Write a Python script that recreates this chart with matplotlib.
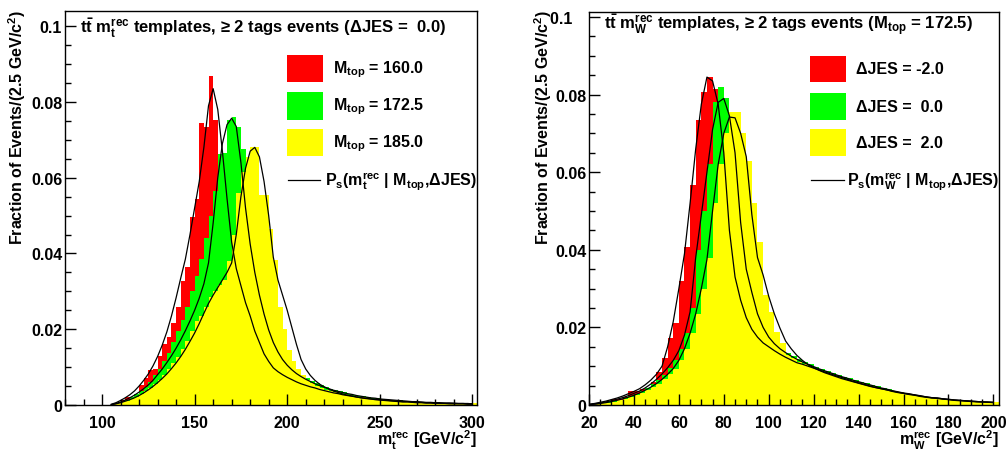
import numpy as np
import matplotlib
matplotlib.use("Agg")
import matplotlib.pyplot as plt
from matplotlib.patches import Rectangle
from matplotlib.lines import Line2D
from matplotlib.ticker import MultipleLocator, FuncFormatter

plt.rcParams['font.family'] = ['Liberation Sans', 'DejaVu Sans']
plt.rcParams['font.weight'] = 'bold'
plt.rcParams['mathtext.fontset'] = 'custom'
plt.rcParams['mathtext.rm'] = 'Liberation Sans:bold'
plt.rcParams['mathtext.it'] = 'Liberation Sans:bold'
plt.rcParams['mathtext.bf'] = 'Liberation Sans:bold'
plt.rcParams['mathtext.sf'] = 'Liberation Sans:bold'
plt.rcParams['mathtext.default'] = 'rm'

# ---------------- data: left panel (m_t^rec), bins of 2.5 GeV ----------------
BIN_W = 2.5
left_bin_start = 102.5
left_labels = ["M$_{top}$ = 160.0", "M$_{top}$ = 172.5", "M$_{top}$ = 185.0"]
left_hist_160 = [
    0.0000, 0.0003, 0.0006, 0.0012, 0.0021, 0.0021, 0.0030, 0.0054, 0.0072, 0.0093,
    0.0096, 0.0130, 0.0160, 0.0180, 0.0216, 0.0260, 0.0328, 0.0363, 0.0497, 0.0544,
    0.0744, 0.0733, 0.0868, 0.0751, 0.0650, 0.0520, 0.0410, 0.0330, 0.0280, 0.0230,
    0.0190, 0.0160, 0.0135, 0.0118, 0.0100, 0.0090, 0.0080, 0.0072, 0.0066, 0.0060,
    0.0055, 0.0050, 0.0046, 0.0042, 0.0040, 0.0036, 0.0034, 0.0031, 0.0029, 0.0027,
    0.0025, 0.0023, 0.0022, 0.0021, 0.0018, 0.0016, 0.0015, 0.0014, 0.0013, 0.0012,
    0.0011, 0.0010, 0.0009, 0.0009, 0.0008, 0.0007, 0.0007, 0.0006, 0.0006, 0.0005,
    0.0005, 0.0005, 0.0004, 0.0004, 0.0004, 0.0003, 0.0003, 0.0003, 0.0003, 0.0002]
left_hist_172 = [
    0.0000, 0.0002, 0.0004, 0.0008, 0.0014, 0.0020, 0.0028, 0.0036, 0.0048, 0.0062,
    0.0078, 0.0095, 0.0115, 0.0138, 0.0165, 0.0195, 0.0225, 0.0260, 0.0300, 0.0340,
    0.0385, 0.0440, 0.0500, 0.0565, 0.0663, 0.0665, 0.0751, 0.0760, 0.0733, 0.0676,
    0.0560, 0.0460, 0.0370, 0.0300, 0.0245, 0.0200, 0.0170, 0.0145, 0.0125, 0.0110,
    0.0097, 0.0087, 0.0078, 0.0070, 0.0063, 0.0057, 0.0052, 0.0047, 0.0043, 0.0039,
    0.0036, 0.0033, 0.0030, 0.0027, 0.0025, 0.0023, 0.0021, 0.0019, 0.0018, 0.0016,
    0.0015, 0.0014, 0.0013, 0.0012, 0.0011, 0.0010, 0.0009, 0.0009, 0.0008, 0.0008,
    0.0007, 0.0007, 0.0006, 0.0006, 0.0005, 0.0005, 0.0005, 0.0004, 0.0004, 0.0004]
left_hist_185 = [
    0.0000, 0.0002, 0.0004, 0.0007, 0.0011, 0.0016, 0.0022, 0.0029, 0.0037, 0.0046,
    0.0056, 0.0067, 0.0080, 0.0094, 0.0110, 0.0128, 0.0148, 0.0170, 0.0195, 0.0222,
    0.0235, 0.0260, 0.0285, 0.0300, 0.0317, 0.0330, 0.0380, 0.0450, 0.0560, 0.0615,
    0.0654, 0.0681, 0.0681, 0.0553, 0.0553, 0.0465, 0.0383, 0.0260, 0.0200, 0.0146,
    0.0115, 0.0094, 0.0080, 0.0065, 0.0058, 0.0050, 0.0045, 0.0040, 0.0036, 0.0033,
    0.0030, 0.0028, 0.0026, 0.0024, 0.0022, 0.0020, 0.0019, 0.0017, 0.0016, 0.0015,
    0.0014, 0.0013, 0.0012, 0.0011, 0.0010, 0.0010, 0.0009, 0.0008, 0.0008, 0.0007,
    0.0007, 0.0006, 0.0006, 0.0006, 0.0005, 0.0005, 0.0005, 0.0004, 0.0004, 0.0004]

# fitted template curves, sampled every 2.5 GeV starting at 105
left_curve_start = 105.0
left_curve_160 = [
    0.0002, 0.0006, 0.0012, 0.0019, 0.0027, 0.0037, 0.0050, 0.0065, 0.0082, 0.0103,
    0.0128, 0.0158, 0.0193, 0.0235, 0.0283, 0.0335, 0.0385, 0.0450, 0.0520, 0.0590,
    0.0680, 0.0790, 0.0835, 0.0780, 0.0670, 0.0545, 0.0430, 0.0360, 0.0315, 0.0270,
    0.0235, 0.0195, 0.0165, 0.0135, 0.0115, 0.0098, 0.0088, 0.0080, 0.0073, 0.0067,
    0.0061, 0.0056, 0.0052, 0.0048, 0.0045, 0.0041, 0.0038, 0.0035, 0.0032, 0.0030,
    0.0027, 0.0025, 0.0023, 0.0021, 0.0019, 0.0017, 0.0016, 0.0014, 0.0013, 0.0012,
    0.0011, 0.0010, 0.0009, 0.0008, 0.0008, 0.0007, 0.0006, 0.0006, 0.0005, 0.0005,
    0.0004, 0.0004, 0.0004, 0.0003, 0.0003, 0.0003, 0.0003, 0.0002, 0.0002]
left_curve_172 = [
    0.0001, 0.0004, 0.0008, 0.0013, 0.0019, 0.0026, 0.0034, 0.0043, 0.0053, 0.0065,
    0.0080, 0.0095, 0.0112, 0.0130, 0.0150, 0.0172, 0.0196, 0.0222, 0.0250, 0.0282,
    0.0320, 0.0375, 0.0480, 0.0600, 0.0690, 0.0740, 0.0757, 0.0735, 0.0640, 0.0520,
    0.0425, 0.0350, 0.0290, 0.0240, 0.0198, 0.0165, 0.0140, 0.0120, 0.0105, 0.0093,
    0.0083, 0.0075, 0.0068, 0.0062, 0.0056, 0.0051, 0.0047, 0.0043, 0.0039, 0.0036,
    0.0033, 0.0030, 0.0028, 0.0025, 0.0023, 0.0021, 0.0019, 0.0018, 0.0016, 0.0015,
    0.0014, 0.0013, 0.0012, 0.0011, 0.0010, 0.0009, 0.0009, 0.0008, 0.0007, 0.0007,
    0.0006, 0.0006, 0.0005, 0.0005, 0.0005, 0.0004, 0.0004, 0.0004, 0.0003]
left_curve_185 = [
    0.0001, 0.0003, 0.0006, 0.0010, 0.0014, 0.0019, 0.0025, 0.0032, 0.0040, 0.0049,
    0.0059, 0.0070, 0.0082, 0.0096, 0.0111, 0.0128, 0.0147, 0.0168, 0.0190, 0.0215,
    0.0242, 0.0268, 0.0290, 0.0310, 0.0330, 0.0350, 0.0375, 0.0450, 0.0550, 0.0625,
    0.0670, 0.0680, 0.0655, 0.0590, 0.0500, 0.0390, 0.0330, 0.0290, 0.0250, 0.0205,
    0.0160, 0.0120, 0.0095, 0.0078, 0.0065, 0.0055, 0.0048, 0.0042, 0.0037, 0.0033,
    0.0029, 0.0026, 0.0024, 0.0021, 0.0019, 0.0018, 0.0016, 0.0015, 0.0014, 0.0013,
    0.0012, 0.0011, 0.0010, 0.0009, 0.0009, 0.0008, 0.0007, 0.0007, 0.0006, 0.0006,
    0.0006, 0.0005, 0.0005, 0.0005, 0.0004, 0.0004, 0.0004, 0.0003, 0.0003]

# ---------------- data: right panel (m_W^rec), bins of 2.5 GeV ----------------
right_bin_start = 20.0
right_labels = ["\u0394JES = -2.0", "\u0394JES =  0.0", "\u0394JES =  2.0"]
right_hist_m2 = [
    0.0001, 0.0003, 0.0005, 0.0008, 0.0015, 0.0015, 0.0020, 0.0035, 0.0035, 0.0040,
    0.0045, 0.0060, 0.0086, 0.0120, 0.0173, 0.0211, 0.0319, 0.0407, 0.0566, 0.0734,
    0.0807, 0.0845, 0.0815, 0.0760, 0.0600, 0.0450, 0.0340, 0.0270, 0.0220, 0.0190,
    0.0172, 0.0158, 0.0148, 0.0138, 0.0130, 0.0122, 0.0115, 0.0110, 0.0104, 0.0099,
    0.0094, 0.0089, 0.0084, 0.0079, 0.0075, 0.0070, 0.0066, 0.0061, 0.0057, 0.0053,
    0.0049, 0.0045, 0.0042, 0.0039, 0.0036, 0.0033, 0.0030, 0.0027, 0.0025, 0.0023,
    0.0021, 0.0019, 0.0017, 0.0015, 0.0014, 0.0013, 0.0011, 0.0010, 0.0009, 0.0009,
    0.0008, 0.0007, 0.0007]
right_hist_0 = [
    0.0001, 0.0002, 0.0004, 0.0007, 0.0010, 0.0014, 0.0018, 0.0023, 0.0029, 0.0035,
    0.0043, 0.0053, 0.0065, 0.0078, 0.0095, 0.0115, 0.0145, 0.0185, 0.0250, 0.0400,
    0.0500, 0.0620, 0.0780, 0.0820, 0.0790, 0.0720, 0.0620, 0.0480, 0.0360, 0.0295,
    0.0240, 0.0205, 0.0178, 0.0160, 0.0146, 0.0135, 0.0126, 0.0118, 0.0111, 0.0105,
    0.0099, 0.0093, 0.0088, 0.0083, 0.0078, 0.0073, 0.0069, 0.0064, 0.0060, 0.0056,
    0.0052, 0.0048, 0.0044, 0.0041, 0.0037, 0.0034, 0.0031, 0.0029, 0.0026, 0.0024,
    0.0021, 0.0019, 0.0018, 0.0016, 0.0014, 0.0013, 0.0012, 0.0011, 0.0010, 0.0009,
    0.0008, 0.0007, 0.0007]
right_hist_p2 = [
    0.0001, 0.0002, 0.0004, 0.0006, 0.0009, 0.0012, 0.0016, 0.0020, 0.0025, 0.0031,
    0.0038, 0.0046, 0.0055, 0.0066, 0.0079, 0.0094, 0.0115, 0.0145, 0.0185, 0.0235,
    0.0300, 0.0380, 0.0520, 0.0620, 0.0700, 0.0755, 0.0755, 0.0700, 0.0630, 0.0520,
    0.0420, 0.0284, 0.0240, 0.0187, 0.0160, 0.0128, 0.0120, 0.0110, 0.0105, 0.0098,
    0.0094, 0.0088, 0.0083, 0.0078, 0.0073, 0.0068, 0.0064, 0.0060, 0.0056, 0.0052,
    0.0048, 0.0045, 0.0042, 0.0039, 0.0036, 0.0033, 0.0030, 0.0028, 0.0026, 0.0023,
    0.0021, 0.0019, 0.0018, 0.0016, 0.0015, 0.0013, 0.0012, 0.0011, 0.0010, 0.0009,
    0.0008, 0.0008, 0.0007]

right_curve_start = 20.0
right_curve_m2 = [
    0.0002, 0.0004, 0.0007, 0.0010, 0.0014, 0.0018, 0.0023, 0.0029, 0.0035, 0.0042,
    0.0052, 0.0064, 0.0079, 0.0100, 0.0150, 0.0215, 0.0300, 0.0390, 0.0520, 0.0660,
    0.0775, 0.0845, 0.0835, 0.0775, 0.0650, 0.0450, 0.0330, 0.0270, 0.0225, 0.0195,
    0.0175, 0.0160, 0.0150, 0.0140, 0.0131, 0.0123, 0.0116, 0.0109, 0.0105, 0.0100,
    0.0095, 0.0090, 0.0085, 0.0080, 0.0075, 0.0071, 0.0066, 0.0061, 0.0057, 0.0053,
    0.0049, 0.0045, 0.0042, 0.0039, 0.0035, 0.0032, 0.0030, 0.0027, 0.0025, 0.0022,
    0.0020, 0.0018, 0.0017, 0.0015, 0.0014, 0.0012, 0.0011, 0.0010, 0.0009, 0.0008,
    0.0008, 0.0007, 0.0006]
right_curve_0 = [
    0.0001, 0.0003, 0.0005, 0.0008, 0.0011, 0.0015, 0.0019, 0.0024, 0.0030, 0.0036,
    0.0044, 0.0054, 0.0066, 0.0080, 0.0096, 0.0115, 0.0140, 0.0180, 0.0240, 0.0380,
    0.0490, 0.0600, 0.0710, 0.0780, 0.0790, 0.0745, 0.0650, 0.0470, 0.0350, 0.0290,
    0.0235, 0.0200, 0.0175, 0.0158, 0.0145, 0.0135, 0.0126, 0.0118, 0.0111, 0.0105,
    0.0099, 0.0093, 0.0088, 0.0083, 0.0078, 0.0073, 0.0069, 0.0064, 0.0060, 0.0056,
    0.0052, 0.0048, 0.0044, 0.0041, 0.0037, 0.0034, 0.0031, 0.0029, 0.0026, 0.0024,
    0.0021, 0.0019, 0.0018, 0.0016, 0.0014, 0.0013, 0.0012, 0.0011, 0.0010, 0.0009,
    0.0008, 0.0007, 0.0007]
right_curve_p2 = [
    0.0001, 0.0002, 0.0004, 0.0006, 0.0009, 0.0012, 0.0016, 0.0020, 0.0025, 0.0031,
    0.0038, 0.0046, 0.0055, 0.0066, 0.0079, 0.0094, 0.0115, 0.0145, 0.0185, 0.0235,
    0.0300, 0.0375, 0.0500, 0.0620, 0.0700, 0.0742, 0.0740, 0.0700, 0.0640, 0.0490,
    0.0380, 0.0335, 0.0280, 0.0235, 0.0198, 0.0165, 0.0145, 0.0128, 0.0115, 0.0104,
    0.0096, 0.0089, 0.0083, 0.0078, 0.0073, 0.0068, 0.0064, 0.0060, 0.0056, 0.0052,
    0.0048, 0.0045, 0.0042, 0.0039, 0.0036, 0.0033, 0.0030, 0.0028, 0.0026, 0.0023,
    0.0021, 0.0019, 0.0018, 0.0016, 0.0015, 0.0013, 0.0012, 0.0011, 0.0010, 0.0009,
    0.0008, 0.0008, 0.0007]

colors = ["#ff0000", "#00ff00", "#ffff00"]
FS = 11.5
FS_TITLE = 12

fig = plt.figure(figsize=(10.08, 4.52), dpi=100)
axL = fig.add_axes([65/1008, 46/452, 412/1008, 394/452])
axR = fig.add_axes([589/1008, 46/452, 410/1008, 393.5/452])

def draw_panel(ax, bin_start, hists, curve_start, curves):
    for vals, c in zip(hists, colors):
        vals = np.asarray(vals)
        edges = bin_start + BIN_W * np.arange(len(vals) + 1)
        ax.stairs(vals, edges, fill=True, color=c, linewidth=0, zorder=1)
    for cv in curves:
        cv = np.asarray(cv)
        xs = curve_start + BIN_W * np.arange(len(cv))
        ax.plot(xs, cv, color='black', lw=0.9, zorder=3)

draw_panel(axL, left_bin_start, [left_hist_160, left_hist_172, left_hist_185],
           left_curve_start, [left_curve_160, left_curve_172, left_curve_185])
draw_panel(axR, right_bin_start, [right_hist_m2, right_hist_0, right_hist_p2],
           right_curve_start, [right_curve_m2, right_curve_0, right_curve_p2])

axL.set_xlim(80, 302.5)
axL.set_ylim(0, 0.104)
axR.set_xlim(20, 202.5)
axR.set_ylim(0, 0.1014)

def yfmt(v, pos):
    if abs(v) < 1e-9:
        return "0"
    return ("%.2f" % v).rstrip('0')

def yfmt_right(v, pos):
    s = yfmt(v, pos)
    if s == "0.1":
        return "0.1   "
    return s

for ax, xmaj, xmin, fmt in [(axL, 50, 10, yfmt), (axR, 20, 5, yfmt_right)]:
    ax.xaxis.set_major_locator(MultipleLocator(xmaj))
    ax.xaxis.set_minor_locator(MultipleLocator(xmin))
    ax.yaxis.set_major_locator(MultipleLocator(0.02))
    ax.yaxis.set_minor_locator(MultipleLocator(0.005))
    ax.yaxis.set_major_formatter(FuncFormatter(fmt))
    ax.tick_params(axis='both', which='major', direction='in', length=8, width=1.0,
                   labelsize=FS, top=False, right=False)
    ax.tick_params(axis='both', which='minor', direction='in', length=4, width=1.0,
                   top=False, right=False)
    ax.tick_params(axis='x', which='major', pad=7)
    ax.tick_params(axis='y', which='major', pad=2)
    for s in ax.spines.values():
        s.set_linewidth(1.0)
        s.set_zorder(5)
    for lab in ax.get_xticklabels() + ax.get_yticklabels():
        lab.set_fontweight('bold')

# titles inside frame
axL.text(0.036, 0.959, "$t\\bar{t}$ m$_{t}^{rec}$ templates, \u2265 2 tags events (\u0394JES =  0.0)",
         transform=axL.transAxes, fontsize=FS_TITLE, fontweight='bold', va='center', ha='left')
axR.text(0.037, 0.968, "$t\\bar{t}$ m$_{W}^{rec}$ templates, \u2265 2 tags events (M$_{top}$ = 172.5)",
         transform=axR.transAxes, fontsize=FS_TITLE, fontweight='bold', va='center', ha='left')

def legend(ax, labels, fit_label, box_x0, box_x1, text_x, box_rows, line_y, line_text_x):
    for (y0, y1), c, lab in zip(box_rows, colors, labels):
        ax.add_patch(Rectangle((box_x0, y0), box_x1 - box_x0, y1 - y0, transform=ax.transAxes,
                               facecolor=c, edgecolor='none', zorder=6))
        ax.text(text_x, (y0 + y1) / 2, lab, transform=ax.transAxes, fontsize=FS,
                fontweight='bold', va='center', ha='left', zorder=6)
    ax.add_line(Line2D([box_x0 + 0.003, box_x1 - 0.006], [line_y, line_y], transform=ax.transAxes,
                       color='black', lw=0.9, zorder=6))
    ax.text(line_text_x, line_y, fit_label, transform=ax.transAxes, fontsize=FS,
            fontweight='bold', va='center', ha='left', zorder=6)

rows = [(0.820, 0.888), (0.724, 0.794), (0.632, 0.701)]
legend(axL, left_labels, "P$_s$(m$_{t}^{rec}$ | M$_{top}$,\u0394JES)",
       0.539, 0.626, 0.650, rows, 0.572, 0.631)
legend(axR, right_labels, "P$_s$(m$_{W}^{rec}$ | M$_{top}$,\u0394JES)",
       0.539, 0.627, 0.651, rows, 0.572, 0.630)

# axis labels
ylab = "Fraction of Events/(2.5 GeV/c$^{2}$)"
fig.text(17/1008, 1 - 10/452, ylab, rotation=90,
         rotation_mode='anchor', ha='right', va='center', fontsize=FS, fontweight='bold')
fig.text(543/1008, 1 - 10/452, ylab, rotation=90,
         rotation_mode='anchor', ha='right', va='center', fontsize=FS, fontweight='bold')
fig.text(477/1008, 1 - 446/452, "m$_{t}^{rec}$ [GeV/c$^{2}$]", ha='right', va='baseline',
         fontsize=FS, fontweight='bold')
fig.text(999/1008, 1 - 446/452, "m$_{W}^{rec}$ [GeV/c$^{2}$]", ha='right', va='baseline',
         fontsize=FS, fontweight='bold')

fig.savefig("out.png", dpi=100, facecolor='white')
